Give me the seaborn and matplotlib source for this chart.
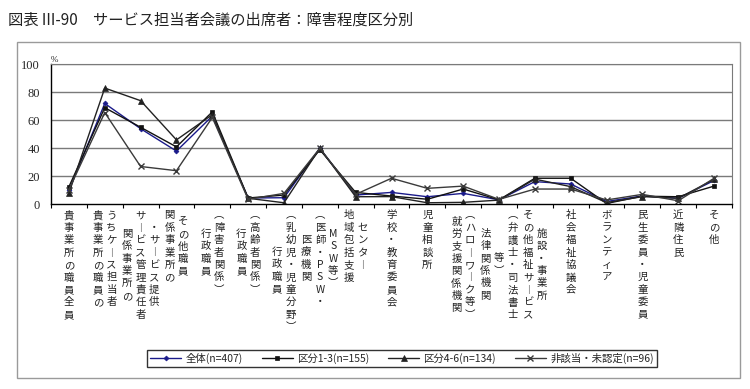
import numpy as np
import pandas as pd
import matplotlib
matplotlib.use("Agg")
import matplotlib.pyplot as plt
import matplotlib.transforms as mtrans
from matplotlib.patches import Rectangle
import seaborn as sns

# ---------------- data ----------------
categories = [
    "貴事業所の職員全員", "貴事業所の職員のうちケース担当者",
    "関係事業所のサービス管理責任者・サービス提供", "関係事業所のその他職員",
    "行政職員（障害者関係）", "行政職員（高齢者関係）", "行政職員（乳幼児・児童分野）",
    "医療機関（医師・PSW・MSW等）", "地域包括支援センター", "学校・教育委員会",
    "児童相談所", "就労支援関係機関（ハローワーク等）", "法律関係機関（弁護士・司法書士等）",
    "その他福祉サービス施設・事業所", "社会福祉協議会", "ボランティア",
    "民生委員・児童委員", "近隣住民", "その他",
]
label_columns = [
    ["貴事業所の職員全員"],
    ["貴事業所の職員の", "うちケース担当者"],
    ["関係事業所の", "サービス管理責任者", "・サービス提供"],
    ["関係事業所の", "その他職員"],
    ["行政職員", "（障害者関係）"],
    ["行政職員", "（高齢者関係）"],
    ["行政職員", "（乳幼児・児童分野）"],
    ["医療機関", "（医師・PSW・", "MSW等）"],
    ["地域包括支援", "センター"],
    ["学校・教育委員会"],
    ["児童相談所"],
    ["就労支援関係機関", "（ハローワーク等）"],
    ["法律関係機関", "等）", "（弁護士・司法書士"],
    ["その他福祉サービス", "施設・事業所"],
    ["社会福祉協議会"],
    ["ボランティア"],
    ["民生委員・児童委員"],
    ["近隣住民"],
    ["その他"],
]
series_names = ["全体(n=407)", "区分1-3(n=155)", "区分4-6(n=134)", "非該当・未認定(n=96)"]
zentai   = [10, 72, 54, 38, 63, 4.5, 4.7, 40, 6.6, 8.5, 5.4, 7.8, 3.2, 16.2, 14.5, 2.0, 6.0, 4.3, 17.0]
kubun13  = [12.5, 69, 55, 41, 66, 4.5, 6.6, 39, 8.5, 5.9, 3.6, 10.9, 3.2, 18.6, 18.6, 0.6, 5.8, 5.4, 13.0]
kubun46  = [8, 83, 74, 46, 64, 4.3, 1.1, 40, 5.4, 5.5, 1.1, 1.4, 3.0, 18.0, 12.6, 1.2, 5.5, 4.3, 17.8]
higaitou = [10.5, 65.5, 27, 24, 62, 3.6, 7.8, 40, 7.1, 18.6, 11.4, 13.0, 3.5, 10.9, 10.9, 3.1, 7.1, 2.5, 18.6]
yticks = [0, 20, 40, 60, 80, 100]
title = "図表 III-90　サービス担当者会議の出席者：障害程度区分別"

# ---------------- style ----------------
sns.set_style("white")
plt.rcParams["font.family"] = ["Noto Sans CJK JP", "DejaVu Sans"]

fig = plt.figure(figsize=(7.5, 3.89), dpi=100)
ax = fig.add_axes([0.068, 0.4748, 0.908, 0.36])

x = np.arange(len(categories))
values = [zentai, kubun13, kubun46, higaitou]
colors = ["#1a1a8a", "#111111", "#222222", "#3a3a3a"]
markers = ["D", "s", "^", "x"]
msizes = [2.5, 3.5, 4, 5]
for name, vals, c, m, ms in zip(series_names, values, colors, markers, msizes):
    df = pd.DataFrame({"x": x, "v": vals})
    sns.lineplot(data=df, x="x", y="v", ax=ax, color=c, marker=m, markersize=ms,
                 markeredgecolor=c, markerfacecolor=c, linewidth=1.0, label=name,
                 markeredgewidth=1.0 if m == "x" else 0.5)

ax.set_xlim(-0.5, len(categories) - 0.5)
ax.set_ylim(0, 100)
ax.set_yticks(yticks)
ax.set_yticklabels([str(t) for t in yticks], family="Liberation Serif", fontsize=9)
ax.tick_params(axis="y", length=0, pad=8)
ax.set_xticks(x)
ax.set_xticklabels([])
ax.set_xticks(np.arange(-0.5, len(categories), 1.0), minor=True)
ax.tick_params(axis="x", which="major", length=0)
ax.tick_params(axis="x", which="minor", length=3, width=0.8, direction="out", color="black", bottom=True)
ax.set_xlabel("")
ax.set_ylabel("")
ax.grid(False)
for t in yticks[1:]:
    ax.axhline(t, color="#7a7a7a", lw=1.0, zorder=0)
for s in ["top", "right"]:
    ax.spines[s].set_color("#7a7a7a")
for s in ["left", "bottom"]:
    ax.spines[s].set_color("black")
    ax.spines[s].set_linewidth(1.0)
ax.text(-0.5, 100, "%", fontsize=6.5, family="Liberation Serif", ha="left", va="bottom",
        transform=ax.transData)
ax.get_legend().remove()

# vertical category labels
vmap = str.maketrans({"（": "︵", "）": "︶", "ー": "︱"})
step_px = 12.3
col_gap_px = 13.5
base = mtrans.blended_transform_factory(ax.transData, ax.transAxes)
for i, cols in enumerate(label_columns):
    n = len(cols)
    maxlen = max(len(c) for c in cols)
    for j, col in enumerate(cols):
        dx = (j - (n - 1) / 2) * col_gap_px
        dy = -(6 + (maxlen - len(col)) / 2 * step_px)
        tr = base + mtrans.ScaledTranslation(dx / 100, dy / 100, fig.dpi_scale_trans)
        ax.text(i, 0, "\n".join(col.translate(vmap)), transform=tr, ha="center", va="top",
                fontsize=7.5, linespacing=1.3, multialignment="center", color="#222222")

# legend
handles, labels = ax.get_legend_handles_labels()
leg = fig.legend(handles, labels, loc="center", bbox_to_anchor=(0.536, 0.079), ncol=4,
                 frameon=True, fancybox=False, edgecolor="black", fontsize=7.5,
                 handlelength=3.0, columnspacing=1.8, handletextpad=0.4,
                 borderpad=0.3)
leg.get_frame().set_linewidth(1.0)

# outer frame and title
fig.patches.append(Rectangle((0.0227, 0.028), 0.964, 0.864, transform=fig.transFigure,
                             fill=False, edgecolor="#9a9a9a", lw=1.0))
fig.text(0.011, 0.947, title, fontsize=11, va="center", ha="left", color="#222222")

fig.savefig("out.png", dpi=100)
